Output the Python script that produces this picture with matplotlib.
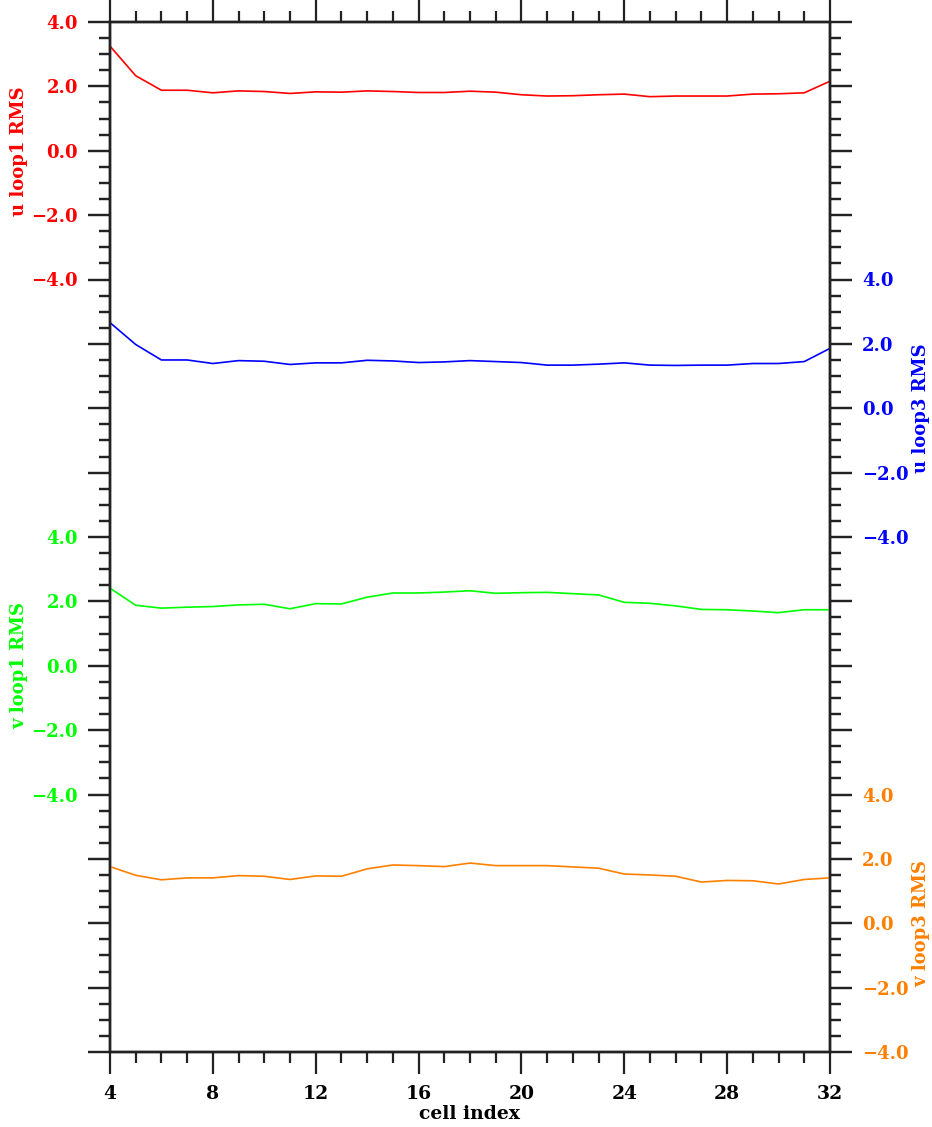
import numpy as np
import matplotlib
matplotlib.use("Agg")
import matplotlib.pyplot as plt
from matplotlib.ticker import MultipleLocator

# cell index
cells = list(range(4, 33))

# RMS per cell for each loop / component
u_loop1 = [3.25, 2.33, 1.88, 1.88, 1.80, 1.86, 1.84, 1.78, 1.83, 1.82, 1.86, 1.84, 1.81, 1.81, 1.85,
           1.82, 1.74, 1.70, 1.71, 1.74, 1.76, 1.68, 1.70, 1.70, 1.70, 1.76, 1.77, 1.80, 2.16]
u_loop3 = [2.66, 1.98, 1.50, 1.50, 1.39, 1.48, 1.46, 1.36, 1.41, 1.41, 1.49, 1.47, 1.42, 1.44, 1.48,
           1.45, 1.42, 1.34, 1.34, 1.37, 1.41, 1.34, 1.33, 1.34, 1.34, 1.39, 1.39, 1.45, 1.86]
v_loop1 = [2.41, 1.88, 1.79, 1.82, 1.84, 1.89, 1.91, 1.77, 1.93, 1.92, 2.13, 2.26, 2.26, 2.29, 2.33,
           2.25, 2.27, 2.28, 2.24, 2.20, 1.97, 1.94, 1.86, 1.75, 1.74, 1.70, 1.65, 1.74, 1.74]
v_loop3 = [1.76, 1.49, 1.35, 1.41, 1.41, 1.48, 1.46, 1.36, 1.47, 1.46, 1.69, 1.81, 1.79, 1.76, 1.87,
           1.79, 1.79, 1.79, 1.75, 1.71, 1.53, 1.50, 1.46, 1.28, 1.33, 1.32, 1.22, 1.36, 1.41]

labels = ["u loop1 RMS", "u loop3 RMS", "v loop1 RMS", "v loop3 RMS"]
colors = ["#ff0000", "#0000ff", "#00ff00", "#ff8000"]
sides = ["left", "right", "left", "right"]
# each curve gets its own 8-unit band on a 32-unit tall frame
ylims = [(-28, 4), (-20, 12), (-12, 20), (-4, 28)]
series = [u_loop1, u_loop3, v_loop1, v_loop3]

plt.rcParams['font.family'] = ['DejaVu Serif']
plt.rcParams['font.weight'] = 'bold'


def band_label(v, pos):
    # only label the band belonging to this curve
    if -4.01 <= v <= 4.01:
        return f"{v:.1f}".replace("-", "\u2212")
    return ""


fig = plt.figure(figsize=(9.32, 11.27), dpi=100)
ax = fig.add_axes([110/932, 1 - 1052/1127, 720/932, 1030/1127])
axes = [ax, ax.twinx(), ax.twinx(), ax.twinx()]

tick_kw = dict(direction='out', width=1.6, color='#222222')
for i, a in enumerate(axes):
    a.plot(cells, series[i], color=colors[i], lw=1.2)
    a.set_xlim(4, 32)
    a.set_ylim(*ylims[i])
    lo, hi = ylims[i]
    side = sides[i]
    a.yaxis.set_ticks_position(side)
    a.yaxis.set_label_position(side)
    a.yaxis.set_major_locator(MultipleLocator(2))
    a.yaxis.set_minor_locator(MultipleLocator(0.5))
    a.yaxis.set_major_formatter(plt.FuncFormatter(band_label))
    a.tick_params(axis='y', which='major', length=16, pad=7, labelsize=13,
                  labelcolor=colors[i], **tick_kw)
    a.tick_params(axis='y', which='minor', length=8, **tick_kw)
    a.set_ylabel(labels[i], color=colors[i], fontsize=13, fontweight='bold')
    ycen = (0 - lo) / (hi - lo)
    if side == 'left':
        a.yaxis.set_label_coords(-0.114, ycen)
    else:
        a.yaxis.set_label_coords(1.114, ycen)
    for s in a.spines.values():
        s.set_linewidth(1.6)
        s.set_color('#222222')

ax.set_xticks(range(4, 33, 4))
ax.xaxis.set_minor_locator(MultipleLocator(1))
ax.tick_params(axis='x', which='both', top=True, **tick_kw)
ax.tick_params(axis='x', which='major', length=16, pad=8, labelsize=13.5)
ax.tick_params(axis='x', which='minor', length=8)
for a in axes[1:]:
    a.tick_params(axis='x', which='both', bottom=False, top=False, labelbottom=False)
ax.set_xlabel("cell index", fontsize=13.5, fontweight='bold', labelpad=1)

fig.savefig("out.png", dpi=100)
